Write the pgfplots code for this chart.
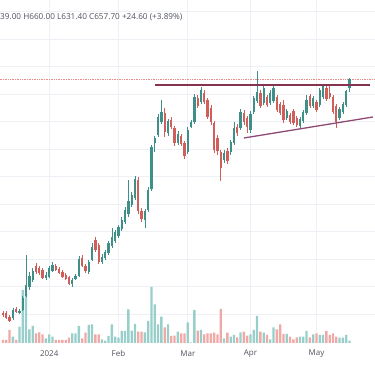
\documentclass[border=0pt]{standalone}
\usepackage{pgfplots}
\pgfplotsset{compat=1.18}
\usepackage{pgfplotstable}
\usepackage{fontspec}
\setmainfont{Open Sans}
\definecolor{upc}{HTML}{3F8F89}
\definecolor{dnc}{HTML}{CF5F5B}
\definecolor{upv}{HTML}{98CFCA}
\definecolor{dnv}{HTML}{EFA9A7}
\definecolor{gridc}{HTML}{EEF0F5}
\definecolor{txt}{HTML}{50535E}
\definecolor{lvl}{HTML}{86334F}
\definecolor{trend}{HTML}{8E4A74}
\definecolor{cur}{HTML}{EF8A88}

\pgfplotstableread{
k o h l c v
3 180 200 176 196 252
5 190 198 188 194 652
6 196 224 194 220 2120
7 224 306 222 246 1988
8 242 272 236 264 548
9 256 280 252 274 680
13 260 272 256 266 188
14 262 284 260 280 348
15 274 292 272 286 252
21 248 260 242 256 388
22 258 268 256 264 388
23 264 304 262 298 680
26 272 296 268 292 720
27 296 330 294 322 748
30 292 308 288 302 148
31 300 316 296 312 92
32 310 334 306 330 280
33 324 360 320 342 748
34 334 356 330 352 252
35 344 366 340 362 212
36 358 382 354 376 480
37 372 402 368 396 480
38 388 456 382 414 1348
39 406 432 402 426 492
40 420 464 416 458 760
43 376 398 360 394 428
44 396 442 392 436 880
45 438 526 434 522 2240
46 530 544 512 540 1548
47 546 588 542 582 748
48 572 616 568 592 1052
50 550 578 544 574 748
53 530 554 526 548 452
56 512 562 508 556 828
57 562 576 560 572 20
58 572 628 568 622 1320
60 612 642 608 636 520
67 496 516 490 510 188
69 512 536 506 532 252
70 530 572 526 560 320
72 560 598 556 592 428
75 556 594 550 588 348
76 592 624 588 620 520
77 614 674 610 632 1080
79 610 646 606 640 412
81 610 636 606 630 148
82 614 646 610 640 628
86 580 598 576 594 360
90 564 582 560 578 252
91 574 596 570 592 252
92 590 626 586 616 480
94 604 624 600 620 348
96 606 640 602 636 320
97 622 648 618 644 320
102 580 602 576 598 212
103 592 612 588 608 212
104 606 636 602 633.1 320
105 639 660 631.4 657.7 92
}\up

\pgfplotstableread{
k o h l c v
0 190 194 182 186 120
1 190 194 178 180 120
2 182 186 172 174 520
4 198 202 190 192 120
10 284 290 268 272 388
11 280 284 266 270 428
12 276 280 258 260 348
16 284 288 274 276 120
17 278 282 268 270 120
18 272 276 260 262 120
19 266 270 256 258 120
20 262 264 246 248 212
24 300 306 282 284 188
25 284 288 270 274 412
28 336 342 312 316 348
29 326 330 288 292 348
41 456 462 388 394 452
42 394 400 372 378 452
49 590 600 542 552 628
51 576 582 558 562 280
52 560 564 524 530 292
54 544 548 524 528 388
55 530 534 498 504 388
59 620 626 600 604 492
61 630 636 608 612 348
62 616 620 578 582 388
63 600 606 566 572 388
64 570 574 510 516 412
65 540 546 506 514 348
66 512 516 454 480 1360
68 514 520 488 494 412
71 562 568 544 550 228
73 590 596 566 572 452
74 580 584 550 562 292
78 630 636 600 604 452
80 622 626 602 606 320
83 622 626 592 596 548
84 608 612 586 590 748
85 606 616 570 576 360
87 586 590 568 572 252
88 594 598 566 570 148
89 580 584 562 566 228
93 624 628 600 604 228
95 612 616 592 596 388
98 640 646 614 618 480
99 630 644 618 622 320
100 622 626 588 592 388
101 604 608 560 572 252
}\dn

\begin{document}
\begin{tikzpicture}
\useasboundingbox (0,-23pt) rectangle (375pt,343pt);
\pgfplotsset{base/.style={at={(0,0)}, anchor=south west, scale only axis,
  width=375pt, height=343pt, xmin=-0.909, xmax=112.73}}
% grid and time axis
\begin{axis}[base, ymin=130, ymax=816,
  xtick={14,35,56,75,95}, xticklabels={2024,Feb,Mar,Apr,May},
  ytick={188,243,298,353,408,463,518,573,628,683,738,793}, yticklabels={},
  xmajorgrids, ymajorgrids, grid style={gridc, line width=0.8pt},
  axis line style={draw=none}, major tick length=0pt,
  xticklabel style={font=\fontsize{8}{9}\selectfont, text=txt, anchor=center, yshift=-11pt}]
\draw[gray!25, line width=0.8pt] (rel axis cs:0,0) -- (rel axis cs:1,0);
\end{axis}
% volume
\begin{axis}[base, hide axis, ymin=0, ymax=13720]
\addplot[ybar, bar width=2.3pt, bar shift=0pt, fill=upv, draw=none] table[x=k,y=v]{\up};
\addplot[ybar, bar width=2.3pt, bar shift=0pt, fill=dnv, draw=none] table[x=k,y=v]{\dn};
\end{axis}
% price
\begin{axis}[base, hide axis, ymin=130, ymax=816]
\addplot[cur, densely dotted, line width=0.7pt] coordinates {(-1,657.7) (113,657.7)};
\addplot[draw=none, mark=none, error bars/.cd, y dir=plus, y explicit, error mark=none,
  error bar style={draw=upc, line width=0.7pt}]
  table[x=k, y=l, y error plus expr=\thisrow{h}-\thisrow{l}]{\up};
\addplot[draw=none, mark=none, error bars/.cd, y dir=plus, y explicit, error mark=none,
  error bar style={draw=upc, line width=2.3pt}]
  table[x=k, y=o, y error plus expr=\thisrow{c}-\thisrow{o}]{\up};
\addplot[draw=none, mark=none, error bars/.cd, y dir=plus, y explicit, error mark=none,
  error bar style={draw=dnc, line width=0.7pt}]
  table[x=k, y=l, y error plus expr=\thisrow{h}-\thisrow{l}]{\dn};
\addplot[draw=none, mark=none, error bars/.cd, y dir=plus, y explicit, error mark=none,
  error bar style={draw=dnc, line width=2.3pt}]
  table[x=k, y=c, y error plus expr=\thisrow{o}-\thisrow{c}]{\dn};
\addplot[lvl, line width=1.6pt] coordinates {(46.06,646) (111.2,646)};
\addplot[trend, line width=1.3pt] coordinates {(73,540) (112.1,582)};
\end{axis}
\node[anchor=base west, inner sep=0pt, text=txt, font=\fontsize{8.2}{10}\selectfont]
  at (0pt,323pt) {39.00 H660.00 L631.40 C657.70 +24.60 (+3.89\%)};
\end{tikzpicture}
\end{document}
